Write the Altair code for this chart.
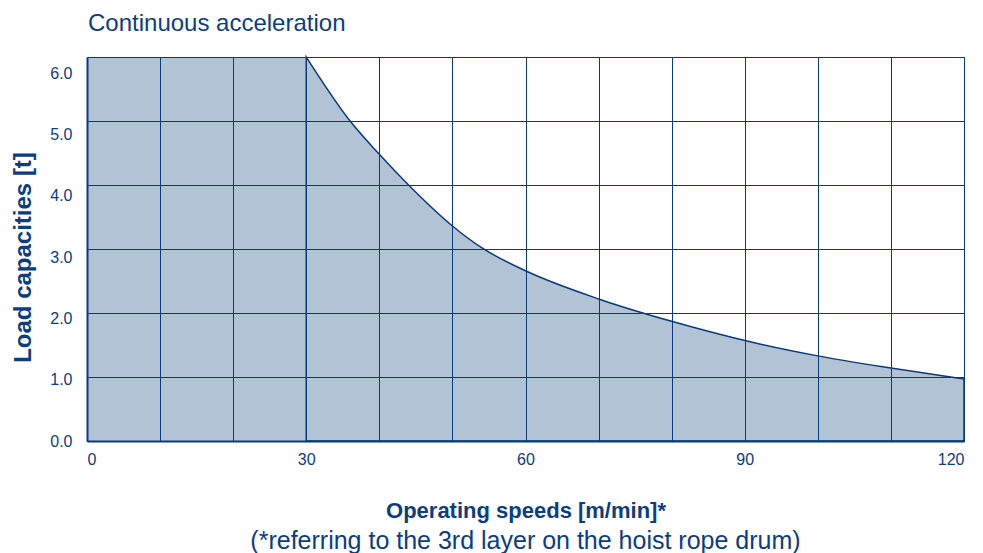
import altair as alt
import pandas as pd

# Data
speed = [0, 30, 36, 40, 44, 50, 54, 60, 70, 80, 90, 100, 110, 120]
load = [6.0, 6.0, 5.0, 4.48, 4.0, 3.36, 3.02, 2.66, 2.22, 1.87, 1.57, 1.33, 1.14, 0.97]
x_grid = [0, 10, 20, 30, 40, 50, 60, 70, 80, 90, 100, 110, 120]
y_ticks = [0, 1, 2, 3, 4, 5, 6]

title_text = "Continuous acceleration"
x_title = "Operating speeds [m/min]*"
y_title = "Load capacities [t]"
footnote = "(*referring to the 3rd layer on the hoist rope drum)"

NAVY = "#0b3a7a"
TEXT = "#0e3d7d"
FILL = "#b2c3d6"
FONT = "Liberation Sans"

W, H = 877, 384

df = pd.DataFrame({"speed": speed, "load": load})

x_enc = alt.X("speed:Q", scale=alt.Scale(domain=[0, 120], nice=False, zero=False),
              axis=alt.Axis(values=x_grid, labelExpr="datum.value % 30 == 0 ? datum.label : ''",
                            title=x_title, titleX=W / 2, titleY=76, titleBaseline="alphabetic",
                            titleAlign="center", titleFontSize=22, titleFontWeight="bold",
                            labelFontSize=16, labelPadding=10, labelOverlap=False,
                            ticks=False, tickSize=0, grid=True, gridColor=NAVY, gridWidth=1,
                            gridOpacity=1, domain=True, domainColor=NAVY, domainWidth=2,
                            zindex=1))
y_enc = alt.Y("load:Q", scale=alt.Scale(domain=[0, 6], nice=False),
              axis=alt.Axis(values=y_ticks, format=".1f", title=y_title,
                            titleX=-64, titleY=200, titleBaseline="middle", titleAlign="center",
                            titleFontSize=24, titleFontWeight="bold", titleAngle=270,
                            labelFontSize=16, labelPadding=15, labelFlush=False,
                            labelOffset=alt.ExprRef("datum.value * 2.7"),
                            ticks=False, tickSize=0, grid=True, gridColor=NAVY, gridWidth=1,
                            gridOpacity=1, domain=True, domainColor=NAVY, domainWidth=2,
                            zindex=1))

base = alt.Chart(df)

flat = base.transform_filter("datum.speed <= 30").mark_area(
    color=FILL, fill=FILL, fillOpacity=1, strokeWidth=0, interpolate="linear"
).encode(x=x_enc, y=y_enc)

curve = base.transform_filter("datum.speed >= 30").mark_area(
    color=FILL, fill=FILL, fillOpacity=1, stroke=NAVY, strokeWidth=1.5,
    interpolate="monotone"
).encode(x="speed:Q", y="load:Q")

title = alt.Chart(pd.DataFrame({"t": [title_text]})).mark_text(
    font=FONT, fontSize=24, color=TEXT, align="left", baseline="alphabetic"
).encode(text="t:N", x=alt.value(1), y=alt.value(-26))

note = alt.Chart(pd.DataFrame({"t": [footnote]})).mark_text(
    font=FONT, fontSize=25, color=TEXT, align="center", baseline="alphabetic"
).encode(text="t:N", x=alt.value(W / 2), y=alt.value(492))

chart = alt.layer(flat, curve, title, note).properties(
    width=W, height=H,
    autosize=alt.AutoSizeParams(type="none"),
    padding={"left": 79, "top": 49, "right": 10, "bottom": 112},
).configure_view(
    stroke=NAVY, strokeWidth=1
).configure_axis(
    labelFont=FONT, titleFont=FONT, labelColor=TEXT, titleColor=TEXT
)

chart.save("out.html", embed_options={"renderer": "svg", "actions": False})
